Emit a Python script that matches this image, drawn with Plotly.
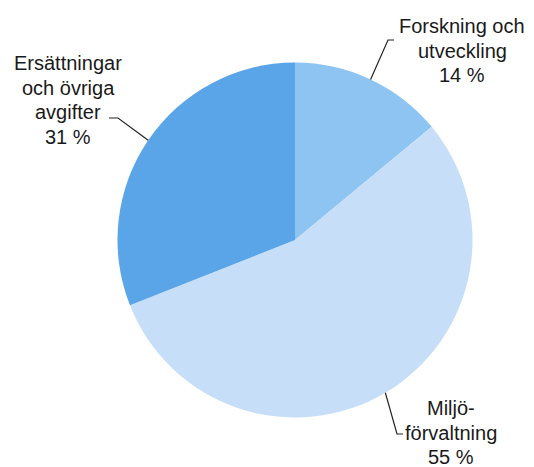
import math
import plotly.graph_objects as go

# Data
categories = ["Forskning och utveckling", "Miljöförvaltning", "Ersättningar och övriga avgifter"]
values = [14, 55, 31]
label_lines = [["Forskning och", "utveckling", "14 %"],
               ["Miljö-", "förvaltning", "55 %"],
               ["Ersättningar", "och övriga", "avgifter", "31 %"]]
colors = ["#8ec4f2", "#c6def7", "#5aa5e8"]

OFF = 8  # page body margin offset of the rendered figure
W, H = 534 - OFF, 467 - OFF
cx, cy, R = 295, 240, 177.5

def px(x):
    return (x - OFF) / W

def py(y):
    return 1 - (y - OFF) / H

fig = go.Figure(go.Pie(
    labels=categories,
    values=values,
    sort=False,
    direction="clockwise",
    rotation=0,
    textinfo="none",
    hoverinfo="label+percent",
    marker=dict(colors=colors, line=dict(width=0)),
    domain=dict(x=[px(cx - R), px(cx + R)], y=[py(cy + R), py(cy - R)]),
    showlegend=False,
))

# label layout (text center x, first line y) and leader elbows, in pixels
label_pos = [(462, 26), (451, 408), (68, 63)]
line_gap = 24.6
elbows = [((388, 40), (394, 40)), ((397, 434), (403, 434)), ((118, 118), (109, 118))]

total = sum(values)
cum = 0
shapes = []
annotations = []
for v, lines, (lx, ly), (e1, e2) in zip(values, label_lines, label_pos, elbows):
    mid = (cum + v / 2) / total * 2 * math.pi
    cum += v
    sx = cx + R * math.sin(mid)
    sy = cy - R * math.cos(mid)
    path = "M {} {} L {} {} L {} {}".format(px(sx), py(sy), px(e1[0]), py(e1[1]), px(e2[0]), py(e2[1]))
    shapes.append(dict(type="path", path=path, xref="paper", yref="paper",
                       line=dict(color="#222222", width=1.2)))
    for i, t in enumerate(lines):
        annotations.append(dict(text=t, x=px(lx), y=py(ly + i * line_gap), xref="paper", yref="paper",
                                showarrow=False, align="center", xanchor="center", yanchor="middle",
                                font=dict(family="Liberation Sans, Arial, sans-serif", size=20, color="#1a1a1a")))

fig.update_layout(
    width=W, height=H,
    margin=dict(l=0, r=0, t=0, b=0),
    paper_bgcolor="white",
    plot_bgcolor="white",
    shapes=shapes,
    annotations=annotations,
)

fig.write_html("out.html")
